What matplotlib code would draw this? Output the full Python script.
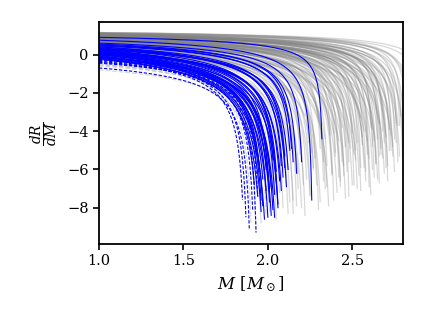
import numpy as np
import matplotlib
matplotlib.use("Agg")
import matplotlib.pyplot as plt

plt.rcParams['font.family'] = ['DejaVu Serif']
plt.rcParams['mathtext.fontset'] = 'dejavuserif'

# per-curve values:
# value at M=1, mass and value where the curve stops, steepness of the drop
gray_m_end = [1.96, 1.99, 2.01, 2.03, 2.05, 2.07, 2.09, 2.11, 2.13, 2.15,
              2.17, 2.19, 2.21, 2.22, 2.24, 2.25, 2.27, 2.28, 2.30, 2.31,
              2.33, 2.34, 2.35, 2.37, 2.38, 2.39, 2.40, 2.42, 2.43, 2.44,
              2.45, 2.46, 2.48, 2.48, 2.50, 2.51, 2.52, 2.53, 2.55, 2.55,
              2.56, 2.58, 2.59, 2.60, 2.60, 2.61, 2.62, 2.63, 2.64, 2.65,
              2.66, 2.66, 2.67, 2.68, 2.69, 2.70, 2.71, 2.72, 2.73, 2.74,
              2.75, 2.76, 2.77, 2.78, 2.79, 2.80, 2.81, 2.82, 2.84, 2.86,
              2.90, 2.95]
gray_y_start = [-0.2, 0.0, -0.1, 0.1, 0.2, 0.0, 0.3, 0.15, 0.25, 0.35,
                0.4, 0.3, 0.5, 0.35, 0.6, 0.45, 0.55, 0.7, 0.5, 0.65,
                0.6, 0.75, 0.55, 0.7, 0.8, 0.65, 0.75, 0.85, 0.7, 0.8,
                0.8, 0.7, 0.9, 0.75, 0.85, 0.95, 0.8, 0.9, 1.0, 0.85,
                0.9, 0.95, 0.85, 1.0, 0.9, 0.95, 1.05, 0.9, 1.0, 0.95,
                1.05, 0.9, 1.0, 1.05, 0.95, 1.1, 1.0, 1.05, 1.1, 1.0,
                1.05, 1.1, 1.0, 1.1, 1.15, 1.05, 1.1, 1.15, 1.1, 1.15,
                1.12, 1.15]
gray_y_end = [-8.8, -7.5, -8.2, -6.9, -8.6, -7.2, -8.0, -6.4, -7.7, -8.3,
              -7.9, -5.2, -6.8, -8.4, -4.6, -7.3, -6.0, -5.4, -8.1, -4.9,
              -6.6, -7.0, -5.8, -4.2, -6.3, -7.6, -5.1, -6.4, -6.9, -5.6,
              -6.3, -4.8, -7.4, -5.6, -4.1, -6.8, -5.0, -4.6, -7.1, -5.9,
              -4.3, -6.1, -4.5, -5.4, -6.9, -3.8, -4.8, -6.4, -5.7, -4.4,
              -5.3, -6.7, -5.2, -4.0, -4.6, -5.9, -6.6, -5.0, -4.2, -5.3,
              -4.4, -3.6, -5.6, -3.7, -3.2, -6.2, -4.9, -3.5, -4.0, -5.2,
              -3.5, -3.0]
gray_k = [1.6, 1.4, 1.5, 1.3, 1.5, 1.2, 1.4, 1.1, 1.3, 1.2,
          1.2, 0.9, 1.1, 1.3, 0.8, 1.1, 1.0, 0.9, 1.2, 0.8,
          1.0, 1.1, 0.9, 0.7, 1.0, 1.1, 0.8, 0.9, 1.0, 0.9,
          0.9, 0.7, 1.0, 0.8, 0.7, 0.9, 0.8, 0.7, 1.0, 0.8,
          0.6, 0.9, 0.7, 0.8, 0.9, 0.6, 0.7, 0.9, 0.8, 0.6,
          0.7, 0.9, 0.7, 0.6, 0.7, 0.8, 0.8, 0.7, 0.6, 0.7,
          0.6, 0.5, 0.7, 0.55, 0.5, 0.7, 0.6, 0.5, 0.55, 0.6,
          0.5, 0.5]

# softer-bending gray branches filling the middle of the fan
gray2_m_end = [2.12, 2.15, 2.18, 2.20, 2.23, 2.25, 2.27, 2.29, 2.31, 2.33,
               2.35, 2.36, 2.38, 2.40, 2.41, 2.43, 2.45, 2.46, 2.47, 2.49,
               2.50, 2.52, 2.53, 2.54, 2.56, 2.57, 2.58, 2.59, 2.61, 2.62,
               2.63, 2.64, 2.65, 2.67, 2.68, 2.69, 2.70, 2.71, 2.72, 2.73,
               2.75, 2.76, 2.77, 2.78, 2.80, 2.18, 2.26, 2.34, 2.44, 2.51,
               2.57, 2.66, 2.74, 2.30, 2.39, 2.48, 2.55, 2.62, 2.22, 2.42]
gray2_y_start = [0.1, 0.2, 0.3, 0.25, 0.4, 0.35, 0.45, 0.5, 0.4, 0.55,
                 0.6, 0.5, 0.65, 0.7, 0.6, 0.7, 0.75, 0.65, 0.8, 0.7,
                 0.85, 0.75, 0.8, 0.9, 0.8, 0.85, 0.95, 0.9, 0.85, 1.0,
                 0.9, 0.95, 1.0, 0.9, 1.05, 0.95, 1.0, 1.05, 0.95, 1.1,
                 1.0, 1.05, 1.1, 1.0, 1.1, 0.2, 0.3, 0.45, 0.6, 0.7,
                 0.75, 0.85, 0.95, 0.35, 0.5, 0.65, 0.7, 0.8, 0.25, 0.55]
gray2_y_end = [-8.3, -7.6, -7.0, -8.0, -6.5, -7.4, -5.9, -6.8, -7.7, -5.6,
               -6.9, -7.9, -6.2, -5.3, -7.2, -6.6, -5.8, -7.5, -6.1, -4.9,
               -6.8, -5.5, -7.0, -6.3, -4.7, -5.9, -6.6, -5.2, -7.3, -6.0,
               -4.5, -5.7, -6.5, -4.9, -5.4, -6.2, -4.3, -5.8, -3.9, -5.0,
               -6.1, -4.6, -3.7, -5.3, -4.2, -6.2, -5.1, -4.4, -3.8, -5.2,
               -4.0, -3.6, -4.8, -3.5, -4.1, -4.6, -3.3, -3.9, -3.2, -4.5]
gray2_k = [1.5, 1.4, 1.3, 1.5, 1.2, 1.4, 1.1, 1.3, 1.4, 1.1,
           1.3, 1.5, 1.2, 1.0, 1.4, 1.3, 1.1, 1.4, 1.2, 1.0,
           1.3, 1.1, 1.3, 1.2, 0.9, 1.1, 1.3, 1.0, 1.3, 1.2,
           0.9, 1.1, 1.2, 1.0, 1.0, 1.2, 0.9, 1.1, 0.8, 1.0,
           1.1, 0.9, 0.8, 1.0, 0.9, 1.6, 1.5, 1.4, 1.3, 1.5,
           1.4, 1.3, 1.4, 1.6, 1.5, 1.6, 1.4, 1.5, 1.7, 1.6]

gray_dash_m_end = [1.90, 1.93, 1.96, 1.99, 2.02]
gray_dash_y_start = [-0.5, -0.8, -0.6, -0.4, -0.55]
gray_dash_y_end = [-8.8, -9.2, -7.8, -8.4, -7.0]
gray_dash_k = [1.3, 1.3, 1.2, 1.3, 1.1]

blue_m_end = [1.92, 1.94, 1.95, 1.96, 1.97, 1.97, 1.98, 1.99, 2.00, 2.00,
              2.01, 2.02, 2.02, 2.03, 2.04, 2.04, 2.05, 2.06, 2.06, 2.07,
              2.08, 2.08, 2.09, 2.10, 2.11, 2.12, 2.13, 2.15, 2.17, 2.20,
              2.26, 2.32, 1.93, 1.99, 2.01, 2.05, 1.96, 2.03, 2.10, 2.14]
blue_y_start = [-0.25, -0.2, -0.15, -0.1, -0.2, 0.0, -0.05, 0.05, -0.1, 0.1,
                0.0, 0.05, -0.15, 0.15, 0.0, 0.2, 0.1, 0.25, 0.05, 0.15,
                0.3, 0.2, 0.35, 0.25, 0.4, 0.3, 0.45, 0.5, 0.55, 0.6,
                0.75, 0.9, -0.1, 0.1, 0.2, 0.3, 0.0, 0.1, 0.4, 0.5]
blue_y_end = [-6.8, -7.4, -5.9, -8.2, -6.5, -7.9, -8.6, -7.1, -8.5, -6.2,
              -7.7, -8.4, -6.9, -5.5, -8.5, -7.3, -6.1, -7.8, -8.0, -6.6,
              -5.8, -7.1, -6.4, -5.3, -6.9, -6.0, -5.0, -5.6, -6.2, -5.6,
              -7.6, -4.4, -5.2, -6.0, -7.0, -6.7, -7.6, -8.1, -5.9, -4.9]
blue_k = [1.6, 1.8, 1.4, 1.9, 1.5, 1.7, 2.0, 1.6, 1.8, 1.3,
          1.7, 1.9, 1.5, 1.2, 1.8, 1.5, 1.3, 1.6, 1.7, 1.4,
          1.2, 1.5, 1.3, 1.1, 1.4, 1.2, 1.0, 1.1, 1.0, 0.9,
          0.9, 0.55, 1.4, 1.5, 1.6, 1.4, 1.7, 1.8, 1.2, 0.9]

blue_dash_m_end = [1.85, 1.87, 1.89, 1.91, 1.93, 1.94]
blue_dash_y_start = [-0.35, -0.3, -0.7, -0.4, -0.25, -0.45]
blue_dash_y_end = [-7.6, -8.5, -9.1, -8.1, -9.3, -7.4]
blue_dash_k = [1.3, 1.3, 1.27, 1.3, 1.3, 1.2]


def branch(y0, m_end, y_end, k):
    # dR/dM blows up like -1/sqrt(Mmax - M) near the maximum mass;
    # find how far past m_end that Mmax sits so both ends are matched
    lo, hi = 1e-6, 2.0
    for _ in range(80):
        d = 0.5 * (lo + hi)
        f = y0 - y_end + k / np.sqrt(m_end + d - 1.0) - k / np.sqrt(d)
        if f > 0:
            hi = d
        else:
            lo = d
    m_max = m_end + d
    a = y0 + k / np.sqrt(m_max - 1.0)
    m = np.linspace(1.0, m_end, 400)
    return m, a - k / np.sqrt(m_max - m)


fig = plt.figure(figsize=(4.25, 3.19), dpi=100)
ax = fig.add_axes([0.233, 0.235, 0.715, 0.696])

for y0, me, ye, k in zip(gray_y_start + gray2_y_start, gray_m_end + gray2_m_end,
                         gray_y_end + gray2_y_end, gray_k + gray2_k):
    m, d = branch(y0, me, ye, k)
    ax.plot(m, d, color='0.5', alpha=0.3, lw=0.9)
for y0, me, ye, k in zip(gray_dash_y_start, gray_dash_m_end, gray_dash_y_end, gray_dash_k):
    m, d = branch(y0, me, ye, k)
    ax.plot(m, d, color='0.5', alpha=0.3, lw=0.9, ls='--')
for y0, me, ye, k in zip(blue_y_start, blue_m_end, blue_y_end, blue_k):
    m, d = branch(y0, me, ye, k)
    ax.plot(m, d, color='blue', lw=0.8)
for y0, me, ye, k in zip(blue_dash_y_start, blue_dash_m_end, blue_dash_y_end, blue_dash_k):
    m, d = branch(y0, me, ye, k)
    ax.plot(m, d, color='blue', lw=0.8, ls='--', dashes=(3, 1.5))

ax.set_xlim(1.0, 2.8)
ax.set_ylim(-9.9, 1.7)
ax.set_xticks([1.0, 1.5, 2.0, 2.5])
ax.set_yticks([0, -2, -4, -6, -8])
ax.tick_params(direction='out', length=4, width=1.2, labelsize=10.5)
for s in ax.spines.values():
    s.set_linewidth(1.3)
ax.set_xlabel(r'$M\ [M_\odot]$', fontsize=12)
ax.set_ylabel(r'$\frac{dR}{dM}$', fontsize=14)

fig.savefig('out.png', dpi=100)
